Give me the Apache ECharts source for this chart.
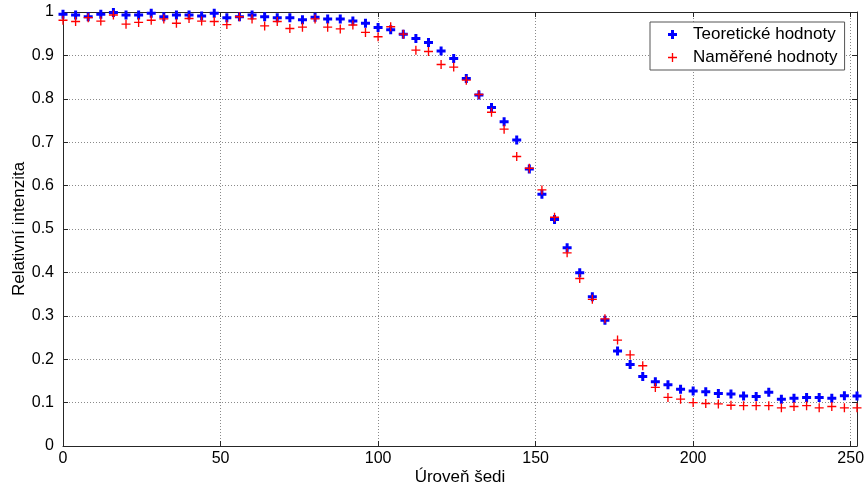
<!DOCTYPE html>
<html>
<head>
<meta charset="utf-8">
<script src="https://cdn.jsdelivr.net/npm/echarts@6/dist/echarts.min.js"></script>
<style>html,body{margin:0;padding:0;background:#fff}#c{width:866px;height:488px}</style>
</head>
<body>
<div id="c"></div>
<script>
const xLevels = [0,4,8,12,16,20,24,28,32,36,40,44,48,52,56,60,64,68,72,76,80,84,88,92,96,100,104,108,112,116,120,124,128,132,136,140,144,148,152,156,160,164,168,172,176,180,184,188,192,196,200,204,208,212,216,220,224,228,232,236,240,244,248,252];
const theoretical = [0.995,0.993,0.989,0.995,0.999,0.993,0.993,0.997,0.989,0.993,0.993,0.991,0.997,0.987,0.989,0.993,0.989,0.987,0.987,0.982,0.988,0.984,0.984,0.979,0.974,0.964,0.959,0.949,0.939,0.930,0.910,0.893,0.847,0.809,0.780,0.747,0.705,0.638,0.580,0.522,0.457,0.399,0.344,0.290,0.219,0.188,0.160,0.148,0.141,0.131,0.127,0.125,0.121,0.120,0.115,0.114,0.124,0.108,0.110,0.112,0.112,0.110,0.116,0.115];
const measured = [0.981,0.978,0.987,0.979,0.993,0.972,0.976,0.981,0.984,0.974,0.985,0.979,0.978,0.971,0.989,0.984,0.968,0.978,0.962,0.965,0.984,0.965,0.961,0.970,0.953,0.943,0.966,0.949,0.912,0.909,0.879,0.873,0.843,0.810,0.769,0.730,0.667,0.640,0.590,0.527,0.445,0.386,0.338,0.293,0.244,0.210,0.185,0.135,0.112,0.108,0.100,0.098,0.097,0.094,0.093,0.093,0.093,0.088,0.091,0.093,0.088,0.091,0.088,0.088];
const xTicks = [0,50,100,150,200,250];
const yTicks = [0,0.1,0.2,0.3,0.4,0.5,0.6,0.7,0.8,0.9,1];
const seriesNames = ['Teoretické hodnoty','Naměřené hodnoty'];
const xTitle = 'Úroveň šedi';
const yTitle = 'Relativní intenzita';

const FONT = 'Liberation Sans, Arial, sans-serif';
const blueSym = 'path://M3,0H6V3H9V6H6V9H3V6H0V3H3Z';
const redSym = 'path://M3.4,0H4.6V3.4H8V4.6H4.6V8H3.4V4.6H0V3.4H3.4Z';
const axisCol = '#262626';
const gridLine = {show:true, lineStyle:{color:'#8a8a8a', type:[1,2], width:1}};

const chart = echarts.init(document.getElementById('c'), null, {renderer:'canvas'});
const pair = (xs, ys) => xs.map((x,i)=>[x, ys[i]]);
chart.setOption({
  animation:false,
  backgroundColor:'#fff',
  grid:{left:63, right:9, top:12, bottom:42, containLabel:false, outerBoundsMode:'none'},
  legend:{
    orient:'vertical', left:650, top:22,
    backgroundColor:'#fff', borderColor:'#555', borderWidth:1,
    padding:[4,7,4,18], itemGap:6, itemWidth:9, itemHeight:9,
    textStyle:{fontFamily:FONT, fontSize:17, color:'#000', padding:[0,0,0,11]},
    data:[{name:seriesNames[0], icon:blueSym, itemStyle:{color:'#0000ff'}},
          {name:seriesNames[1], icon:redSym, itemStyle:{color:'#ff0000'}}]
  },
  xAxis:[{
    type:'value', min:0, max:252, interval:50, position:'bottom',
    name:xTitle, nameLocation:'middle', nameGap:23, nameMoveOverlap:false,
    nameTextStyle:{fontFamily:FONT, fontSize:17, color:'#000'},
    axisLine:{show:true, lineStyle:{color:axisCol, width:1}},
    axisTick:{show:true, inside:true, length:5, lineStyle:{color:axisCol}},
    axisLabel:{fontFamily:FONT, fontSize:16, color:'#000', margin:5,
      formatter:v => xTicks.indexOf(v) >= 0 ? String(v) : ''},
    splitLine:gridLine
  },{
    type:'value', min:0, max:252, interval:50, position:'top',
    axisLine:{show:true, onZero:false, lineStyle:{color:axisCol, width:1}},
    axisTick:{show:true, inside:true, length:5, lineStyle:{color:axisCol}},
    axisLabel:{show:false}, splitLine:{show:false}
  }],
  yAxis:[{
    type:'value', min:0, max:1, interval:0.1, position:'left',
    name:yTitle, nameLocation:'middle', nameGap:35, nameMoveOverlap:false,
    nameTextStyle:{fontFamily:FONT, fontSize:17, color:'#000'},
    axisLine:{show:true, lineStyle:{color:axisCol, width:1}},
    axisTick:{show:true, inside:true, length:5, lineStyle:{color:axisCol}},
    axisLabel:{fontFamily:FONT, fontSize:16, color:'#000', margin:9,
      formatter:v => { const t = yTicks.find(q => Math.abs(q-v)<1e-9); return t===undefined ? '' : String(t); }},
    splitLine:gridLine
  },{
    type:'value', min:0, max:1, interval:0.1, position:'right',
    axisLine:{show:true, onZero:false, lineStyle:{color:axisCol, width:1}},
    axisTick:{show:true, inside:true, length:5, lineStyle:{color:axisCol}},
    axisLabel:{show:false}, splitLine:{show:false}
  }],
  series:[
    {name:seriesNames[0], type:'scatter', xAxisIndex:0, yAxisIndex:0,
     symbol:blueSym, symbolSize:9, itemStyle:{color:'#0000ff', opacity:1},
     data:pair(xLevels, theoretical)},
    {name:seriesNames[1], type:'scatter', xAxisIndex:0, yAxisIndex:0,
     symbol:redSym, symbolSize:9, itemStyle:{color:'#ff0000', opacity:1},
     data:pair(xLevels, measured)}
  ]
});
</script>
</body>
</html>
